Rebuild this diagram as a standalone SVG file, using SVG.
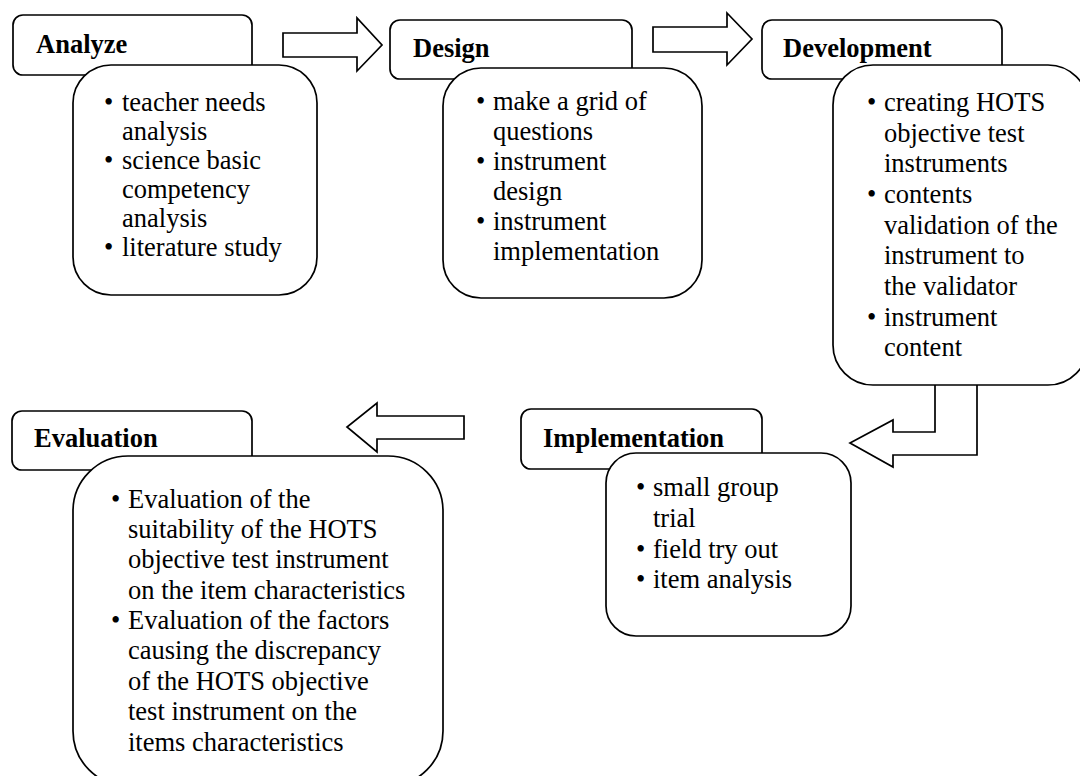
<svg xmlns="http://www.w3.org/2000/svg" width="1080" height="776" viewBox="0 0 1080 776">
<style>
.box{fill:#fff;stroke:#000;stroke-width:1.7}
.arr{fill:#fff;stroke:#000;stroke-width:1.7;stroke-linejoin:miter}
.h{font-family:"Liberation Serif","Times New Roman",serif;font-weight:bold;font-size:26.5px;fill:#000}
.t{font-family:"Liberation Serif","Times New Roman",serif;font-size:26.5px;fill:#000}
</style>
<rect width="1080" height="776" fill="#fff"/>
<g id="connectors">
<polygon class="arr" points="283,33 357,33 357,18 382,45 357,71 357,57 283,57"/>
<polygon class="arr" points="653,27 727,27 727,13 752,39 727,65 727,52 653,52"/>
<polygon class="arr" points="935,380 935,432 893,432 893,420 850,443 893,467 893,455 977,455 977,380"/>
<polygon class="arr" points="464,416 377,416 377,403 347,427 377,452 377,439 464,439"/>
</g>
<g id="analyze">
<rect class="box" x="13" y="15" width="239" height="60" rx="10"/>
<text class="h" x="36" y="53">Analyze</text>
<rect class="box" x="73" y="65" width="244" height="230" rx="38"/>
<text class="t"><tspan x="104" y="111">•</tspan><tspan x="122" y="111">teacher needs</tspan><tspan x="122" y="140">analysis</tspan><tspan x="104" y="169">•</tspan><tspan x="122" y="169">science basic</tspan><tspan x="122" y="198">competency</tspan><tspan x="122" y="227">analysis</tspan><tspan x="104" y="256">•</tspan><tspan x="122" y="256">literature study</tspan></text>
</g>
<g id="design">
<rect class="box" x="390" y="20" width="242" height="59" rx="10"/>
<text class="h" x="413" y="57">Design</text>
<rect class="box" x="443" y="68" width="259" height="230" rx="38"/>
<text class="t"><tspan x="476" y="110">•</tspan><tspan x="493" y="110">make a grid of</tspan><tspan x="493" y="140">questions</tspan><tspan x="476" y="170">•</tspan><tspan x="493" y="170">instrument</tspan><tspan x="493" y="200">design</tspan><tspan x="476" y="230">•</tspan><tspan x="493" y="230">instrument</tspan><tspan x="493" y="260">implementation</tspan></text>
</g>
<g id="development">
<rect class="box" x="762" y="20" width="240" height="59" rx="10"/>
<text class="h" x="783" y="57">Development</text>
<rect class="box" x="833" y="65" width="255" height="320" rx="40"/>
<text class="t"><tspan x="867" y="111">•</tspan><tspan x="884" y="111">creating HOTS</tspan><tspan x="884" y="142">objective test</tspan><tspan x="884" y="172">instruments</tspan><tspan x="867" y="203">•</tspan><tspan x="884" y="203">contents</tspan><tspan x="884" y="234">validation of the</tspan><tspan x="884" y="264">instrument to</tspan><tspan x="884" y="295">the validator</tspan><tspan x="867" y="326">•</tspan><tspan x="884" y="326">instrument</tspan><tspan x="884" y="356">content</tspan></text>
</g>
<g id="implementation">
<rect class="box" x="521" y="409" width="241" height="60" rx="10"/>
<text class="h" x="543" y="447">Implementation</text>
<rect class="box" x="606" y="453" width="245" height="183" rx="30"/>
<text class="t"><tspan x="636" y="496">•</tspan><tspan x="653" y="496">small group</tspan><tspan x="653" y="527">trial</tspan><tspan x="636" y="558">•</tspan><tspan x="653" y="558">field try out</tspan><tspan x="636" y="588">•</tspan><tspan x="653" y="588">item analysis</tspan></text>
</g>
<g id="evaluation">
<rect class="box" x="12" y="411" width="240" height="59" rx="10"/>
<text class="h" x="34" y="447">Evaluation</text>
<rect class="box" x="73" y="456" width="370" height="330" rx="55"/>
<text class="t"><tspan x="111" y="508">•</tspan><tspan x="128" y="508">Evaluation of the</tspan><tspan x="128" y="538">suitability of the HOTS</tspan><tspan x="128" y="568">objective test instrument</tspan><tspan x="128" y="599">on the item characteristics</tspan><tspan x="111" y="629">•</tspan><tspan x="128" y="629">Evaluation of the factors</tspan><tspan x="128" y="659">causing the discrepancy</tspan><tspan x="128" y="690">of the HOTS objective</tspan><tspan x="128" y="720">test instrument on the</tspan><tspan x="128" y="751">items characteristics</tspan></text>
</g>
</svg>
